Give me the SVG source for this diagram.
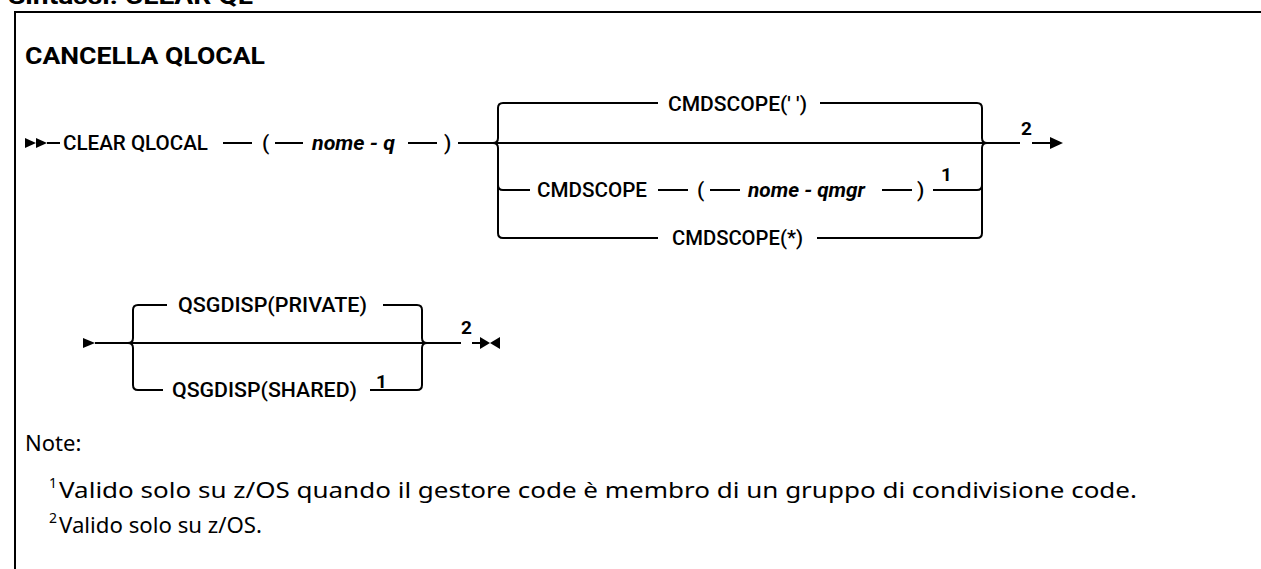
<svg xmlns="http://www.w3.org/2000/svg" width="1261" height="569" viewBox="0 0 1261 569">
<style>
.ln{fill:none;stroke:#000;stroke-width:2;}
.lbl{font-family:Roboto,"Liberation Sans",sans-serif;font-size:21px;font-weight:500;fill:#000;}
.var{font-family:Roboto,"Liberation Sans",sans-serif;font-size:21px;font-weight:700;font-style:italic;fill:#000;}
.fn{font-family:Roboto,"Liberation Sans",sans-serif;font-size:19px;font-weight:700;fill:#000;}
.ttl{font-family:Roboto,"Liberation Sans",sans-serif;font-size:23px;font-weight:700;fill:#000;}
.note{font-family:"Noto Sans","Open Sans",sans-serif;font-size:22px;fill:#000;}
.sup{font-family:"Noto Sans","Open Sans",sans-serif;font-size:14px;fill:#000;}
.tri{fill:#000;}
</style>
<rect width="1261" height="569" fill="#fff"/>
<g id="header">
<text class="ttl" x="8" y="4" textLength="245" lengthAdjust="spacingAndGlyphs">Sintassi: CLEAR QL</text>
<path class="ln" d="M15,569 V12 H1261"/>
<text class="ttl" x="25" y="64" textLength="240" lengthAdjust="spacingAndGlyphs">CANCELLA QLOCAL</text>
</g>
<g id="connectors">
<polygon class="tri" points="25,138 36,143 25,148"/>
<polygon class="tri" points="36,138 47,143 36,148"/>
<path class="ln" d="M47,143 H60 M223,143 H252 M275,143 H303 M408,143 H437 M458,143 H1020 M1032,143 H1050"/>
<polygon class="tri" points="1050,137 1063,143 1050,149"/>
<path class="ln" d="M493,143 Q498,143 498,138 V108 Q498,103 503,103 H658"/>
<path class="ln" d="M493,143 Q498,143 498,148 V233 Q498,238 503,238 H658"/>
<path class="ln" d="M498,185 Q498,190 503,190 H530"/>
<path class="ln" d="M820,103 H977 Q982,103 982,108 V138 Q982,143 987,143"/>
<path class="ln" d="M817,238 H977 Q982,238 982,233 V148 Q982,143 987,143"/>
<path class="ln" d="M658,190 H688 M710,190 H740 M882,190 H912 M933,190 H977 Q982,190 982,185"/>
<polygon class="tri" points="83,338 95,343 83,348"/>
<path class="ln" d="M95,343 H461 M472,343 H480"/>
<polygon class="tri" points="480,337 490,343 480,349"/>
<polygon class="tri" points="500,337 490,343 500,349"/>
<path class="ln" d="M128,343 Q133,343 133,338 V310 Q133,305 138,305 H167"/>
<path class="ln" d="M128,343 Q133,343 133,348 V385 Q133,390 138,390 H163"/>
<path class="ln" d="M383,305 H417 Q422,305 422,310 V338 Q422,343 427,343"/>
<path class="ln" d="M370,390 H417 Q422,390 422,385 V348 Q422,343 427,343"/>
</g>
<g id="n-clear"><text class="lbl" x="63" y="150" textLength="145" lengthAdjust="spacingAndGlyphs">CLEAR QLOCAL</text></g>
<g id="n-lp1"><text class="lbl" x="262" y="150">(</text></g>
<g id="n-nomeq"><text class="var" x="312" y="150" textLength="83" lengthAdjust="spacingAndGlyphs">nome - q</text></g>
<g id="n-rp1"><text class="lbl" x="444" y="150">)</text></g>
<g id="n-cmd-blank"><text class="lbl" x="668" y="111" textLength="139" lengthAdjust="spacingAndGlyphs">CMDSCOPE(' ')</text></g>
<g id="n-cmd"><text class="lbl" x="537" y="197" textLength="110" lengthAdjust="spacingAndGlyphs">CMDSCOPE</text></g>
<g id="n-lp2"><text class="lbl" x="697" y="197">(</text></g>
<g id="n-qmgr"><text class="var" x="748" y="197" textLength="117" lengthAdjust="spacingAndGlyphs">nome - qmgr</text></g>
<g id="n-rp2"><text class="lbl" x="917" y="197">)</text></g>
<g id="n-fn1a"><text class="fn" x="941" y="181">1</text></g>
<g id="n-cmd-star"><text class="lbl" x="672" y="245" textLength="131" lengthAdjust="spacingAndGlyphs">CMDSCOPE(*)</text></g>
<g id="n-fn2a"><text class="fn" x="1021" y="135">2</text></g>
<g id="n-private"><text class="lbl" x="178" y="312" textLength="189" lengthAdjust="spacingAndGlyphs">QSGDISP(PRIVATE)</text></g>
<g id="n-shared"><text class="lbl" x="172" y="397" textLength="185" lengthAdjust="spacingAndGlyphs">QSGDISP(SHARED)</text></g>
<g id="n-fn1b"><text class="fn" x="376" y="388">1</text></g>
<g id="n-fn2b"><text class="fn" x="461" y="334">2</text></g>
<g id="notes">
<text class="note" x="25" y="451">Note:</text>
<text class="sup" x="49" y="488">1</text>
<text class="note" x="59" y="498" textLength="1078" lengthAdjust="spacingAndGlyphs">Valido solo su z/OS quando il gestore code è membro di un gruppo di condivisione code.</text>
<text class="sup" x="49" y="523">2</text>
<text class="note" x="59" y="533" textLength="203" lengthAdjust="spacingAndGlyphs">Valido solo su z/OS.</text>
</g>
</svg>
